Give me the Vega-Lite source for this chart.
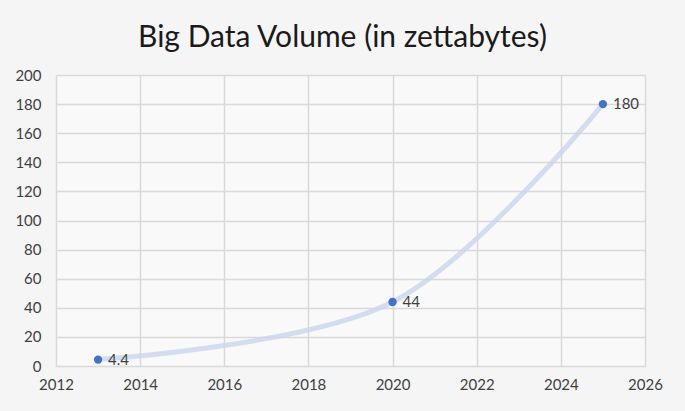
{
  "$schema": "https://vega.github.io/schema/vega-lite/v6.json",
  "width": 589,
  "height": 291,
  "autosize": {"type": "none"},
  "padding": {"left": 56, "top": 75, "right": 40, "bottom": 45},
  "background": "#f5f5f5",
  "title": {
    "text": "Big Data Volume (in zettabytes)",
    "fontSize": 30,
    "font": "Lato",
    "fontWeight": "normal",
    "color": "#1a1a1a",
    "anchor": "middle",
    "offset": 15,
    "dx": -8
  },
  "config": {
    "view": {"stroke": null, "fill": "#f9f9f9"},
    "axis": {
      "labelFont": "Lato",
      "labelFontSize": 15,
      "labelColor": "#404040",
      "gridColor": "#d9d9d9",
      "gridWidth": 1.5,
      "domain": false,
      "ticks": false,
      "title": null
    }
  },
  "data": {
    "values": [
      {"year": 2013, "zb": 4.4, "label": "4.4"},
      {"year": 2020, "zb": 44, "label": "44"},
      {"year": 2025, "zb": 180, "label": "180"}
    ]
  },
  "encoding": {
    "x": {
      "field": "year",
      "type": "quantitative",
      "scale": {"domain": [2012, 2026], "nice": false, "zero": false},
      "axis": {"values": [2012, 2014, 2016, 2018, 2020, 2022, 2024, 2026], "format": "d", "labelPadding": 11, "labelFlush": false}
    },
    "y": {
      "field": "zb",
      "type": "quantitative",
      "scale": {"domain": [0, 200], "nice": false},
      "axis": {"values": [0, 20, 40, 60, 80, 100, 120, 140, 160, 180, 200], "labelPadding": 15}
    }
  },
  "layer": [
    {
      "mark": {"type": "line", "interpolate": "catmull-rom", "color": "#c9d6ec", "strokeWidth": 5, "strokeCap": "round", "opacity": 0.8}
    },
    {
      "mark": {"type": "circle", "color": "#4472c4", "size": 70, "opacity": 1}
    },
    {
      "mark": {"type": "text", "align": "left", "dx": 10, "fontSize": 15, "font": "Lato", "color": "#404040"},
      "encoding": {"text": {"field": "label"}}
    }
  ]
}
